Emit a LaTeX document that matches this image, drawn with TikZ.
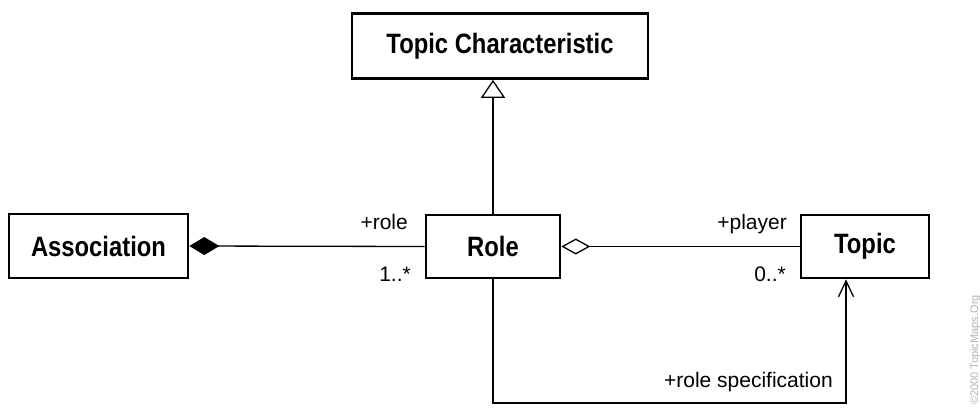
\documentclass[tikz,border=0pt]{standalone}
\usepackage{fontspec}
\setmainfont{Liberation Sans}
\newfontfamily\boxfont[FakeStretch=0.85]{Liberation Sans Bold}
\usetikzlibrary{arrows.meta}
\begin{document}
\begin{tikzpicture}[x=1pt,y=-1pt,
  cls/.style={draw, line width=2.6pt, inner sep=0pt, font=\boxfont\fontsize{28}{30}\selectfont},
  conn/.style={line width=1.3pt},
  lbl/.style={inner sep=0pt, font=\fontsize{21}{23}\selectfont}]
\useasboundingbox (0,0) rectangle (980,407);
\node[cls, minimum width=296pt, minimum height=65pt] (tc) at (500,46) {Topic Characteristic};
\node[cls, minimum width=179pt, minimum height=64pt] (assoc) at (98.5,246) {Association};
\node[cls, minimum width=134pt, minimum height=63pt] (role) at (493,246.5) {Role};
\node[cls, minimum width=128pt, minimum height=63pt] (topic) at (865,246.5) {Topic};
% generalisation
\draw[conn, -{Triangle[open, length=18pt, width=24pt, line width=1.3pt]}] (role.north) -- (role.north |- tc.south);
% composition
\draw[conn, -{Diamond[length=30pt, width=18pt]}] (role.west) -- (assoc.east);
% aggregation
\draw[conn, -{Diamond[open, length=29pt, width=16pt, line width=1.3pt]}] (topic.west) -- (role.east);
% role specification
\coordinate (bend) at (846,403);
\draw[conn, -{Straight Barb[length=16pt, width=15pt, line width=1.3pt]}] (role.south) |- (bend) -- (bend |- topic.south);
% labels
\node[lbl, anchor=base east] (l1) at (408,229) {+role};
\node[lbl, anchor=base east] (l2) at (411,281) {1..*};
\node[lbl, anchor=base east] (l3) at (787,229) {+player};
\node[lbl, anchor=base east] (l4) at (786,281) {0..*};
\node[lbl, anchor=base east] (l5) at (833,387) {+role specification};
\node[inner sep=0pt, rotate=90, anchor=base west, text=black!30, font=\fontsize{11}{12}\selectfont] (wm) at (978,405) {©2000 TopicMaps.Org};
\end{tikzpicture}
\end{document}
